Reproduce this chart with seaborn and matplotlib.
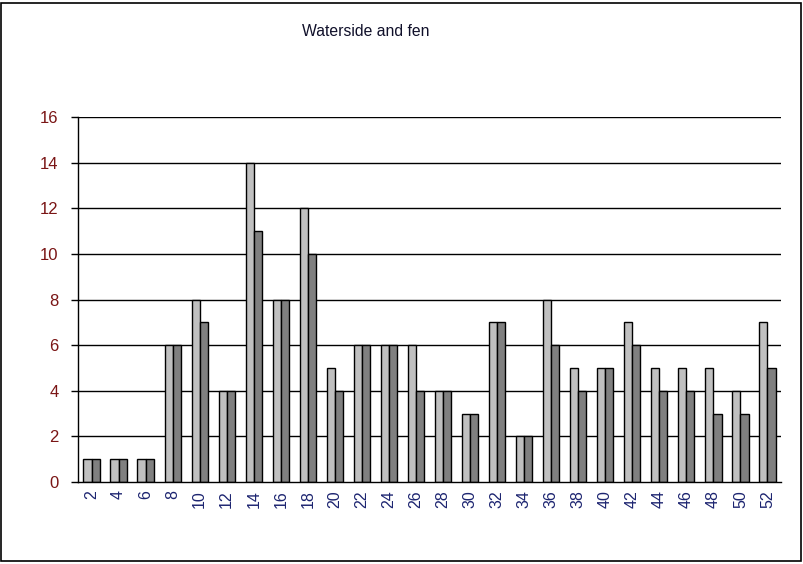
import numpy as np
import pandas as pd
import matplotlib
matplotlib.use("Agg")
import matplotlib.pyplot as plt
import matplotlib.patches as mpatches
import seaborn as sns

# Fortnight / week categories along the x axis
categories = [2, 4, 6, 8, 10, 12, 14, 16, 18, 20, 22, 24, 26,
              28, 30, 32, 34, 36, 38, 40, 42, 44, 46, 48, 50, 52]
series_a = [1, 1, 1, 6, 8, 4, 14, 8, 12, 5, 6, 6, 6,
            4, 3, 7, 2, 8, 5, 5, 7, 5, 5, 5, 4, 7]
series_b = [1, 1, 1, 6, 7, 4, 11, 8, 10, 4, 6, 6, 4,
            4, 3, 7, 2, 6, 4, 5, 6, 4, 4, 3, 3, 5]
y_ticks = [0, 2, 4, 6, 8, 10, 12, 14, 16]

df = pd.DataFrame({
    "cat": [str(c) for c in categories] * 2,
    "value": series_a + series_b,
    "series": ["a"] * len(categories) + ["b"] * len(categories),
})

sns.set_theme(style="white")
plt.rcParams['font.family'] = ['Liberation Sans', 'DejaVu Sans']

fig = plt.figure(figsize=(8.04, 5.64), dpi=100)
ax = fig.add_axes([78 / 804, 1 - 482 / 564, 703 / 804, 365 / 564])

sns.barplot(data=df, x="cat", y="value", hue="series",
            palette=["#c0c0c0", "#808080"], width=0.6,
            edgecolor="black", linewidth=1, saturation=1,
            legend=False, ax=ax)

n = len(categories)
ax.set_xlim(-0.5, n - 0.5)
ax.set_ylim(0, 16)
ax.set_yticks(y_ticks)
ax.set_xlabel("")
ax.set_ylabel("")

# horizontal gridlines in black, behind the bars
for y in y_ticks[1:]:
    ax.axhline(y, color="black", linewidth=1, zorder=0)

for s in ["top", "right"]:
    ax.spines[s].set_visible(False)
for s in ["left", "bottom"]:
    ax.spines[s].set_color("black")
    ax.spines[s].set_linewidth(1)

ax.tick_params(axis="x", which="major", length=0, pad=6,
               labelrotation=90, labelsize=11.5, labelcolor="#1c2470")
ax.set_xticks(np.arange(-0.5, n, 1.0), minor=True)
ax.tick_params(axis="x", which="minor", length=5, width=1,
               color="black", direction="out")
ax.tick_params(axis="y", length=5, width=1, color="black",
               direction="out", left=True, labelsize=12,
               labelcolor="#7a1515", pad=9)

fig.text(366 / 804, 1 - 31 / 564, "Waterside and fen", ha="center",
         va="center", fontsize=11.3, color="#10102a")

# outer border around the chart area
fig.patches.append(mpatches.Rectangle((1 / 804, 3 / 564), 800 / 804, 558 / 564,
                                      transform=fig.transFigure, fill=False,
                                      edgecolor="black", linewidth=1.2))

fig.savefig("out.png", dpi=100, facecolor="white")
